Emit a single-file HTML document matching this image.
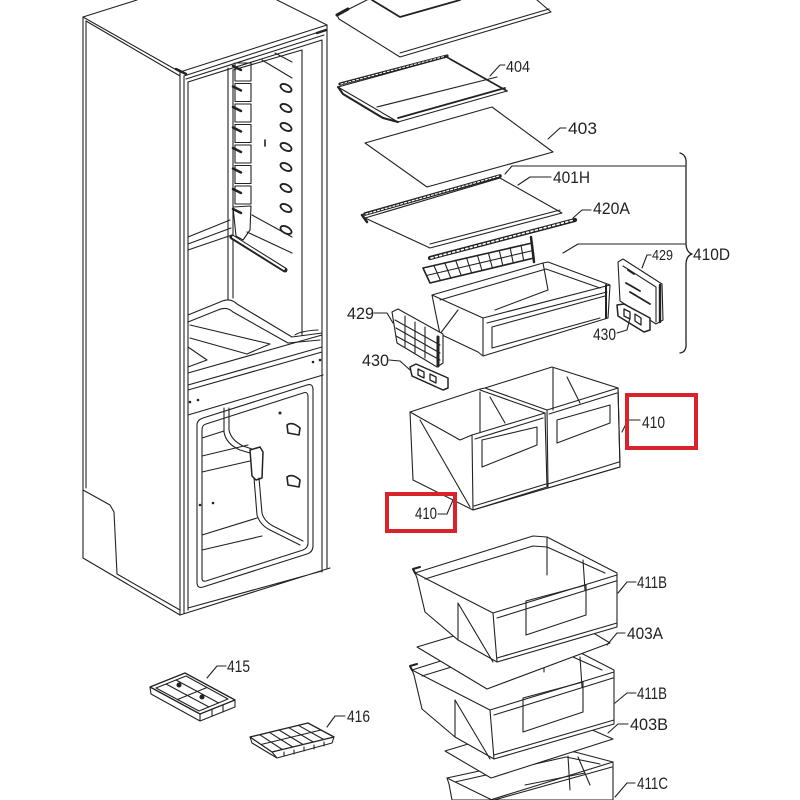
<!DOCTYPE html>
<html><head><meta charset="utf-8">
<style>
html,body{margin:0;padding:0;background:#fff;}
svg{display:block;}
text{font-family:"Liberation Sans",sans-serif;fill:#222;}
</style></head><body>
<svg width="800" height="800" viewBox="0 0 800 800" xmlns="http://www.w3.org/2000/svg">
<rect width="800" height="800" fill="#fff"/>
<g fill="none" stroke="#222" stroke-width="1.1" stroke-linejoin="round" stroke-linecap="round">

<!-- ================= CABINET ================= -->
<path d="M83,17 L137,0 M277,0 L327,25 M83,17 L180,72 L327,25 M86,21 L180,76"/>
<path d="M83,17 V558 L180,615"/>
<path d="M86,21 V488"/>
<path d="M83,490 L110,505 L114,512 L117,574 L180,610"/>
<path d="M180,72 V615 M184,76 V613 M188,82 V610"/>
<path d="M327,25 V568 M322,40 V572"/>
<path d="M184,76 L325,30 M188,82 L322,40 M186,79 L324,35"/>
<path d="M180,615 L330,568 M188,608 L322,571"/>
<path d="M317,33 L326,30 M176,69 L186,74" stroke-width="2.5"/>

<!-- fresh food interior -->
<path d="M228,68 V300 M233,70 V298"/>
<path d="M302,50 V335"/>
<path d="M233,70 L302,50"/>
<path d="M262,60 L292,78 M275,53 L292,62"/>
<path d="M252,215 L292,237 M247,232 L292,253"/>
<path d="M188,237 L230,220 M188,250 L232,235 M188,244 L231,228"/>
<path d="M232,237 L285,270" stroke-width="5"/>
<path d="M233,237 L284,269" stroke="#fff" stroke-width="2"/>
<!-- door shelf support blocks -->
<g>
<rect x="235" y="63" width="16" height="18"/><path d="M233,66 L241,70" stroke-width="2.5"/>
<rect x="235" y="83.5" width="16" height="18"/><path d="M233,86.5 L241,90.5" stroke-width="2.5"/>
<rect x="235" y="104" width="16" height="18"/><path d="M233,107 L241,111" stroke-width="2.5"/>
<rect x="235" y="124.5" width="16" height="18"/><path d="M233,127.5 L241,131.5" stroke-width="2.5"/>
<rect x="235" y="145" width="16" height="18"/><path d="M233,148 L241,152" stroke-width="2.5"/>
<rect x="235" y="165.5" width="16" height="18"/><path d="M233,168.5 L241,172.5" stroke-width="2.5"/>
<rect x="235" y="186" width="16" height="18"/><path d="M233,189 L241,193" stroke-width="2.5"/>
<path d="M233,207 L251,206 L250,230 L243,240 L236,236 Z"/>
<path d="M233,209 L241,213" stroke-width="2.5"/>
</g>
<!-- right wall bumps -->
<g stroke-width="1.8" fill="#fff">
<ellipse cx="286" cy="88" rx="6" ry="3.3" transform="rotate(28 286 88)"/>
<ellipse cx="286" cy="108" rx="6" ry="3.3" transform="rotate(28 286 108)"/>
<ellipse cx="286" cy="127" rx="6" ry="3.3" transform="rotate(28 286 127)"/>
<ellipse cx="286" cy="147" rx="6" ry="3.3" transform="rotate(28 286 147)"/>
<ellipse cx="286" cy="167" rx="6" ry="3.3" transform="rotate(28 286 167)"/>
<ellipse cx="286" cy="188" rx="6" ry="3.3" transform="rotate(28 286 188)"/>
<ellipse cx="286" cy="208" rx="6" ry="3.3" transform="rotate(28 286 208)"/>
<ellipse cx="286" cy="230" rx="6" ry="3.3" transform="rotate(28 286 230)"/>
</g>
<path d="M265,140 V146" stroke-width="1.6"/>
<!-- floor -->
<path d="M188,315 L220,302 Q230,297 237,304 L292,337 L322,333"/>
<path d="M188,322 L218,310 Q227,306 233,312 L288,343 L320,340"/>
<path d="M190,325 L270,344 L247,354 L190,338"/>
<path d="M188,347 L207,360 L188,367"/>
<path d="M295,335 Q300,331 318,330"/>
<!-- mullion -->
<path d="M188,373 L322,335 M188,385 L322,347 M188,390 L322,352 M188,415 L323,375"/>
<g fill="#222" stroke="none">
<circle cx="190" cy="402" r="1.3"/><circle cx="198" cy="400" r="1.3"/>
<circle cx="313" cy="362" r="1.3"/><circle cx="320" cy="360" r="1.3"/>
<circle cx="280" cy="413" r="1.5"/><circle cx="200" cy="505" r="1.3"/><circle cx="213" cy="503" r="1.3"/>
</g>
<!-- freezer -->
<path d="M203,418 L307,385 Q313,383 313,390 V546 Q313,552 307,554 L203,587 Q197,589 197,582 V425 Q197,420 203,418 Z"/>
<path d="M206,424 L303,393 Q308,391 308,397 V543 Q308,548 303,550 L206,581 Q202,582 202,578 V430 Q202,425 206,424 Z"/>
<path d="M224,408 V432 Q226,444 240,450 L250,453 M229,408 V430 Q231,440 243,446 L252,449"/>
<path d="M250,450 L260,447 L263,452 L262,478 L256,480 L252,476 Z" stroke-width="1.5"/>
<path d="M254,478 L257,515 Q260,525 270,530 L300,545 M259,478 L262,513 Q264,521 273,526 L303,541"/>
<path d="M202,438 L224,431 M202,456 L248,445 M202,472 L250,461 M202,535 L257,518 M202,550 L262,536"/>
<path d="M287,425 Q292,421 300,428 L299,435 L288,433 Z M287,477 Q292,473 300,480 L299,487 L288,485 Z" stroke-width="1.6"/>

<!-- ================= TOP SHELF (cut) ================= -->
<path d="M367,0 L337,15 L339,19 L400,57 L551,12 L537,0" fill="#fff"/>
<path d="M400,53 L549,9"/>
<path d="M372,0 L400,17 L460,0" stroke-width="1.8"/>
<path d="M337,15 L348,9" stroke-width="3"/>

<!-- ================= 404 ================= -->
<path d="M338,87 L447,57 L507,91 L398,122 Z" fill="#fff"/>
<path d="M340,84 L447,56" stroke-width="3.2"/>
<path d="M341,84 L446,56" stroke="#fff" stroke-width="1" stroke-dasharray="2 2"/>
<path d="M398,118 L505,88" stroke-width="1.8"/>
<path d="M377,107 L497,77"/>
<path d="M338,87 L343,94 L383,118 L398,122" stroke-width="2"/>
<path d="M445,56 L450,59 L507,91" stroke-width="1.6"/>
<path d="M490,76 L500,65 L505,65"/>

<!-- ================= 403 ================= -->
<path d="M365,143 L492,107 L553,152 L427,187 Z" fill="#fff"/>
<path d="M548,139 L560,128 L566,128"/>

<!-- ================= 401H ================= -->
<path d="M365,218 L500,178 L562,213 L430,248 Z" fill="#fff"/>
<path d="M365,214 L500,176" stroke-width="3.6"/>
<path d="M366,214 L499,176" stroke="#fff" stroke-width="1.2" stroke-dasharray="2 2"/>
<path d="M430,244 L560,210"/>
<path d="M362,215 L367,222" stroke-width="2.5"/>
<path d="M518,185 L530,177 L551,177"/>
<path d="M505,174 L512,166 L685,166"/>

<!-- ================= 420A rail ================= -->
<path d="M430,258 L575,220" stroke-width="4.2"/>
<path d="M431,258 L574,220" stroke="#fff" stroke-width="1.6" stroke-dasharray="2 2.5"/>
<path d="M573,218 L582,210 L591,210"/>

<!-- 410D leader + brace -->
<path d="M563,253 L578,244 L685,244"/>
<path d="M680,153 Q687,155 686,165 L686,243 Q686,252 692,254 Q686,256 686,265 L686,342 Q687,352 680,353" stroke-width="1.3"/>

<!-- ================= crisper back grille ================= -->
<path d="M423,268 L532,243 L534,258 L430,283 Z" fill="#fff" stroke-width="1.6"/>
<path d="M426.5,275.5 L533,250.5"/>
<path d="M433.9,265.5 L440.4,280.5 M444.8,263 L450.8,278 M455.7,260.5 L461.2,275.5 M466.6,258 L471.6,273 M477.5,255.5 L482,270.5 M488.4,253 L492.4,268 M499.3,250.5 L502.8,265.5 M510.2,248 L513.2,263 M521.1,245.5 L523.6,260.5"/>
<path d="M531,237 L534,262" stroke-width="2.5"/>

<!-- ================= crisper drawer 410D ================= -->
<path d="M432,295 L543,263 L548,262 L610,285 L608,318 L483,356 L478,352 L440,334 L436,315 Z" fill="#fff"/>
<path d="M432,295 L483,318 L610,285"/>
<path d="M487,323 L607,292"/>
<path d="M483,318 V355"/>
<path d="M492,327 L605,296 M492,327 V348 L600,318"/>
<path d="M440,300 L546,269 L600,288"/>
<path d="M543,263 L548,290 M548,290 L495,310 M458,310 L440,334"/>
<path d="M606,285 V318" stroke-width="2"/>

<!-- ================= 429 / 430 right ================= -->
<path d="M618,262 L623,259 L662,284 L663,320 L656,324 L620,301 Z" fill="#fff"/>
<path d="M623,266 L656,287 V322"/>
<path d="M660,285 V322" stroke-width="2.4"/>
<path d="M626,283 L640,291 M630,292 L650,304 M628,270 L634,274" stroke-width="1.8"/>
<path d="M642,268 L647,255 L651,255"/>
<path d="M617,305 L624,304 L650,318 L650,330 L644,332 L618,316 Z" fill="#fff" stroke-width="1.5"/>
<path d="M624,309 L630,312 V319 L624,316 Z M635,314 L641,318 V325 L635,321 Z" stroke-width="1.3"/>
<path d="M630,318 L627,330 L617,333"/>

<!-- ================= 429 / 430 left ================= -->
<path d="M392,312 L398,309 L443,334 L443,363 L437,367 L397,343 Z" fill="#fff"/>
<path d="M395,320 L440,345 M396,328 L440,353 M396,336 L440,360"/>
<path d="M405,316 V347 M415,322 V353 M425,327 V358"/>
<path d="M438,337 V366" stroke-width="3"/>
<path d="M374,313 L387,313 L393,323"/>
<path d="M410,367 L416,364 L448,378 L448,388 L443,390 L412,376 Z" fill="#fff" stroke-width="1.5"/>
<path d="M418,369 L424,372 V378 L418,375 Z M430,374 L436,377 V383 L430,380 Z" stroke-width="1.3"/>
<path d="M389,360 L400,361 L410,370"/>

<!-- ================= boxes 410 ================= -->
<path d="M410,412 L480,389 L485,388 L552,367 L618,388 L620,467 L548,488 L473,510 L413,480 Z" fill="#fff"/>
<path d="M410,412 L460,440 L472,435"/>
<path d="M480,390 L545,413"/>
<path d="M485,388 L547,410"/>
<path d="M420,420 L470,507"/>
<path d="M480,392 V432 M490,397 L505,423"/>
<path d="M553,368 V410 M567,377 L580,403"/>
<path d="M472,435 L545,413 L547,487 L473,510 Z"/>
<path d="M475,439 L543,418"/>
<path d="M547,410 L618,388 L620,467 L548,488 Z"/>
<path d="M549,414 L617,393"/>
<path d="M548,484 L619,462 M474,506 L546,484"/>
<path d="M482,440 L537,427 V445 L482,467 Z"/>
<path d="M557,420 L610,405 V423 L557,443 Z"/>
<path d="M622,432 L628,420 L640,420"/>
<path d="M438,514 L447,514 L453,500"/>

<!-- ================= drawer 3 (411C) ================= -->
<path d="M447,778 L567,752 L575,752 L613,762 V800 H452 L449,784 Z" fill="#fff"/>
<path d="M447,778 L492,800"/>
<path d="M490,800 L613,762"/>
<path d="M494,800 L612,767"/>
<path d="M455,782 L566,757 L600,764"/>
<path d="M568,756 L570,790 M578,757 L590,785"/>
<path d="M525,785 L585,773"/>
<path d="M615,797 L627,783 L635,783"/>

<!-- ================= glass 403B ================= -->
<path d="M445,751 L560,716 L613,739 L491,778 Z" fill="#fff"/>
<path d="M608,733 L618,724 L628,724"/>

<!-- ================= drawer 2 (411B) ================= -->
<g transform="translate(-3,97)">
<path d="M415,573 L533,536 L547,537 L617,573 L617,627 L497,662 L458,640 L425,612 L417,578 Z" fill="#fff"/>
<path d="M415,573 L493,613 L617,575"/>
<path d="M497,618 L616,581"/>
<path d="M493,613 L497,662"/>
<path d="M458,603 V640 M458,603 L493,662"/>
<path d="M425,579 L533,546 L547,547 L605,573"/>
<path d="M547,537 V575 M583,560 L585,590"/>
<path d="M526,601 L586,585 V615 L526,635 Z"/>
<path d="M497,658 L617,623"/>
<path d="M415,573 L413,569 L420,567" stroke-width="2"/>
</g>

<!-- ================= glass 403A ================= -->
<path d="M417,647 L550,607 L610,643 L487,689 Z" fill="#fff"/>
<path d="M607,645 L617,633 L625,633"/>

<!-- ================= drawer 1 (411B) ================= -->
<g>
<path d="M415,573 L533,536 L547,537 L617,573 L617,627 L497,662 L458,640 L425,612 L417,578 Z" fill="#fff"/>
<path d="M415,573 L493,613 L617,575"/>
<path d="M497,618 L616,581"/>
<path d="M493,613 L497,662"/>
<path d="M458,603 V640 M458,603 L493,662"/>
<path d="M425,579 L533,546 L547,547 L605,573"/>
<path d="M547,537 V575 M583,560 L585,590"/>
<path d="M526,601 L586,585 V615 L526,635 Z"/>
<path d="M497,658 L617,623"/>
<path d="M415,573 L413,569 L420,567" stroke-width="2"/>
</g>
<path d="M618,593 L627,582 L636,582"/>
<path d="M615,703 L627,693 L636,693"/>

<!-- ================= tray 415 ================= -->
<path d="M150,687 L185,673 L235,700 L200,714 Z" fill="#fff" stroke-width="1.3"/>
<path d="M150,687 L151,694 L200,721 L235,707 L235,700 M200,714 L200,721"/>
<path d="M156,688 L186,676 L228,699 L199,711 Z"/>
<path d="M166,684 L209,707 M176,680 L218.7,703 M177.5,699.5 L207,687.5"/>
<path d="M212,709 V716 M223,705 V712"/>
<circle cx="179" cy="685" r="2" fill="#222"/><circle cx="202" cy="697" r="2" fill="#222"/>
<path d="M207,678 L217,666 L226,666"/>

<!-- ================= tray 416 ================= -->
<path d="M250,737 L308,723 L334,737 L272,752 Z" fill="#fff" stroke-width="1.3"/>
<path d="M250,737 L252,743 L277,758 L332,743 L334,737 M272,752 L277,758"/>
<path d="M261,744.5 L321,730"/>
<path d="M259.7,734.7 L282.3,749.5 M269.3,732.3 L292.7,747 M279,730 L303,744.5 M288.7,727.7 L313.3,742 M298.3,725.3 L323.7,739.5"/>
<path d="M284,752 V756 M294,750 V754 M304,747 V751 M314,745 V749 M324,742 V746"/>
<path d="M327,727 L335,716 L345,716"/>
</g>

<!-- red highlight boxes -->
<rect x="627" y="395" width="69" height="53" fill="none" stroke="#d8232a" stroke-width="4"/>
<rect x="387" y="494" width="68" height="37" fill="none" stroke="#d8232a" stroke-width="4"/>

<!-- ================= labels ================= -->
<g>
<text x="506" y="72" font-size="15.5" textLength="24" lengthAdjust="spacingAndGlyphs">404</text>
<text x="568" y="134" font-size="17" textLength="29" lengthAdjust="spacingAndGlyphs">403</text>
<text x="553" y="183" font-size="17" textLength="37" lengthAdjust="spacingAndGlyphs">401H</text>
<text x="593" y="214" font-size="16.5" textLength="37" lengthAdjust="spacingAndGlyphs">420A</text>
<text x="693" y="260" font-size="17" textLength="37" lengthAdjust="spacingAndGlyphs">410D</text>
<text x="652" y="260" font-size="15" textLength="21" lengthAdjust="spacingAndGlyphs">429</text>
<text x="593" y="340" font-size="16.5" textLength="23" lengthAdjust="spacingAndGlyphs">430</text>
<text x="347" y="319" font-size="17" textLength="27" lengthAdjust="spacingAndGlyphs">429</text>
<text x="362" y="366" font-size="17" textLength="27" lengthAdjust="spacingAndGlyphs">430</text>
<text x="642" y="428" font-size="17" textLength="23" lengthAdjust="spacingAndGlyphs">410</text>
<text x="415" y="519" font-size="17" textLength="22" lengthAdjust="spacingAndGlyphs">410</text>
<text x="637" y="588" font-size="17" textLength="30" lengthAdjust="spacingAndGlyphs">411B</text>
<text x="627" y="639" font-size="17" textLength="36" lengthAdjust="spacingAndGlyphs">403A</text>
<text x="637" y="699" font-size="17" textLength="30" lengthAdjust="spacingAndGlyphs">411B</text>
<text x="630" y="730" font-size="17" textLength="38" lengthAdjust="spacingAndGlyphs">403B</text>
<text x="637" y="789" font-size="17" textLength="31" lengthAdjust="spacingAndGlyphs">411C</text>
<text x="227" y="672" font-size="16.5" textLength="23" lengthAdjust="spacingAndGlyphs">415</text>
<text x="347" y="722" font-size="16.5" textLength="23" lengthAdjust="spacingAndGlyphs">416</text>
</g>
</svg>
</body></html>
